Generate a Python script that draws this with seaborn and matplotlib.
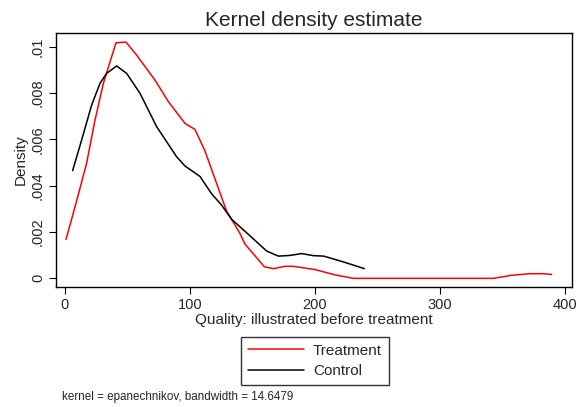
import pandas as pd
import matplotlib
matplotlib.use('Agg')
import matplotlib.pyplot as plt
import seaborn as sns

# values
treat_x = [0.8, 8.8, 17.3, 24, 30.7, 40.8, 48.8, 57.3, 72, 82.7, 96, 104, 112,
           121.3, 129.3, 140, 144, 159.5, 167, 176, 182.7, 200, 216, 230.7,
           342.7, 357, 372, 382.7, 389.3]
treat_y = [.00168, .00324, .00497, .00683, .00842, .01017, .0102, .00964, .00856,
           .00763, .00669, .00643, .00550, .0041, .00290, .00194, .00148, .0005,
           .00042, .00052, .00052, .00038, .00015, 0, 0, .00013, .0002, .0002, .00017]

control_x = [6.1, 13.3, 21.3, 28, 33.3, 41.3, 49.3, 60, 73.3, 81.3, 89.3, 96, 108,
             117.3, 125.3, 133.3, 146.7, 161.3, 170.7, 180, 189.3, 198.7, 207,
             222.7, 239.5]
control_y = [.00465, .00597, .00748, .00842, .00885, .00917, .00885, .00799, .00655,
             .0059, .00525, .00485, .0044, .00365, .00316, .00255, .0019, .00118,
             .00096, .00099, .00107, .00098, .00096, .00071, .00042]

groups = ['Treatment', 'Control']
colors = {'Treatment': 'red', 'Control': 'black'}
x_ticks = [0, 100, 200, 300, 400]
y_ticks = [0, .002, .004, .006, .008, .01]
y_tick_labels = ['0', '.002', '.004', '.006', '.008', '.01']

df = pd.concat([
    pd.DataFrame({'x': treat_x, 'density': treat_y, 'group': 'Treatment'}),
    pd.DataFrame({'x': control_x, 'density': control_y, 'group': 'Control'}),
])

sns.set_style('white')
plt.rcParams['font.family'] = ['Liberation Sans', 'DejaVu Sans']

fig = plt.figure(figsize=(5.87, 4.07), dpi=100)
ax = fig.add_axes([0.0954, 0.2956, 0.879, 0.6226])

sns.lineplot(data=df, x='x', y='density', hue='group', hue_order=groups,
             palette=colors, estimator=None, sort=False, linewidth=1.1, ax=ax)

ax.set_xlim(-7.2, 405.6)
ax.set_ylim(-0.00036, 0.01058)
ax.set_xticks(x_ticks)
ax.set_yticks(y_ticks)
ax.set_yticklabels(y_tick_labels, rotation=90, va='center')
ax.tick_params(axis='both', direction='out', length=5, width=0.8, color='black',
               labelsize=10.5, pad=3, left=True, bottom=True)
for s in ax.spines.values():
    s.set_color('black')
    s.set_linewidth(1.0)

ax.set_title('Kernel density estimate', fontsize=15, pad=5)
ax.set_xlabel('Quality: illustrated before treatment', fontsize=11, labelpad=1)
ax.set_ylabel('Density', fontsize=11, labelpad=2)

ax.legend_.remove()
handles, labels = ax.get_legend_handles_labels()
fig.legend(handles, labels, loc='center', bbox_to_anchor=(315 / 587, 1 - 361 / 407),
           frameon=True, fancybox=False, edgecolor='black', fontsize=11,
           handlelength=3.65, handletextpad=0.6, borderpad=0.45, labelspacing=0.45,
           borderaxespad=0)
fig.legends[0].get_frame().set_linewidth(1.0)

fig.text(62 / 587, 1 - 397 / 407, 'kernel = epanechnikov, bandwidth = 14.6479',
         fontsize=8.4, va='center', ha='left')

fig.savefig('out.png', dpi=100)
